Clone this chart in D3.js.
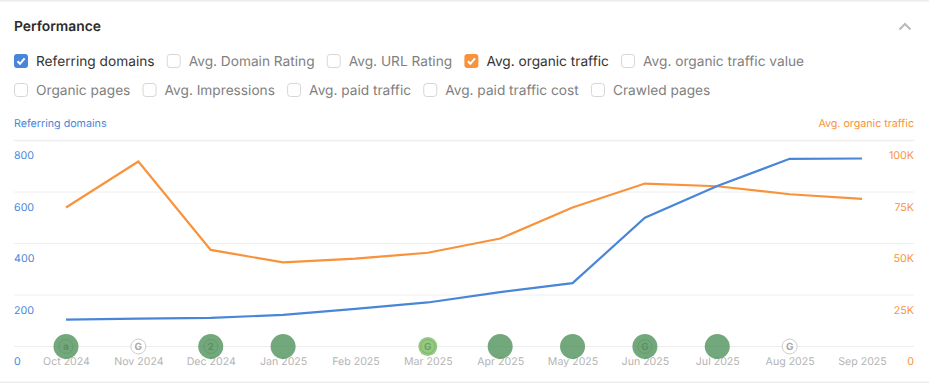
<!DOCTYPE html>
<html>
<head>
<meta charset="utf-8">
<script src="https://cdn.jsdelivr.net/npm/d3@7"></script>
<style>
html, body { margin: 0; padding: 0; background: #fff; }
svg { display: block; font-family: Inter, sans-serif; text-rendering: geometricPrecision; }
</style>
</head>
<body>
<div class="container"></div>
<script>
var width = 929;
var height = 383;

var months = ['Oct 2024','Nov 2024','Dec 2024','Jan 2025','Feb 2025','Mar 2025','Apr 2025','May 2025','Jun 2025','Jul 2025','Aug 2025','Sep 2025'];
var referringDomains = [104,108,111,123,146,171,211,246,500,623,729,730];
var organicTraffic = [67500,89800,46900,40800,42700,45500,52400,67500,79100,77800,73900,71700];

var leftTicks = [0,200,400,600,800];
var rightTicks = [0,25000,50000,75000,100000];

var row1 = ['Referring domains','Avg. Domain Rating','Avg. URL Rating','Avg. organic traffic','Avg. organic traffic value'];
var row2 = ['Organic pages','Avg. Impressions','Avg. paid traffic','Avg. paid traffic cost','Crawled pages'];
var checked = {'Referring domains':'#4a86d8','Avg. organic traffic':'#f8933c'};

var noteMonths = ['Oct 2024','Nov 2024','Dec 2024','Jan 2025','Mar 2025','Apr 2025','May 2025','Jun 2025','Jul 2025','Aug 2025'];
var noteKinds = ['big','small','big','big','mid','big','big','big','big','small'];
var noteGlyphs = ['a','G','2','','G','','','G','','G'];

var blue = '#4a86d8';
var orange = '#f8933c';

var svg = d3.select('.container').append('svg')
	.attr('width',width)
	.attr('height',height);

// frame lines
svg.append('rect').attr('x',0).attr('y',0).attr('width',width).attr('height',1.5).attr('fill','#ececec');
svg.append('rect').attr('x',0).attr('y',381.5).attr('width',width).attr('height',1.5).attr('fill','#ececec');

svg.append('text')
	.attr('x',14).attr('y',31)
	.attr('font-size',13.85).attr('font-weight',600).attr('fill','#2b2b2b')
	.text('Performance');

svg.append('path')
	.attr('d','M899.5 29.5L905 24L910.5 29.5')
	.attr('fill','none').attr('stroke','#b9b9b9').attr('stroke-width',2);

var drawRow = function(items, y) {
	var x = 14;
	items.forEach(function(label) {
		var color = checked[label];
		var g = svg.append('g').attr('transform','translate(' + x + ',' + y + ')');
		g.append('rect')
			.attr('x',color ? 0 : 0.5).attr('y',color ? -7 : -6.5)
			.attr('width',color ? 14 : 13).attr('height',color ? 14 : 13)
			.attr('rx',3)
			.attr('fill',color || '#fff')
			.attr('stroke',color ? 'none' : '#d6d6d6');
		if (color) {
			g.append('path')
				.attr('d','M3.5 0.2L6 2.8L10.6 -2.6')
				.attr('fill','none').attr('stroke','#fff').attr('stroke-width',2);
		}
		var t = g.append('text')
			.attr('x',22).attr('y',5)
			.attr('font-size',13.7)
			.attr('fill',color ? '#333333' : '#808080')
			.text(label);
		x += 22 + t.node().getComputedTextLength() + 12.2;
	});
}
drawRow(row1,61);
drawRow(row2,90);

svg.append('text').attr('x',14).attr('y',127)
	.attr('font-size',10.7).attr('fill',blue).text('Referring domains');
svg.append('text').attr('x',914).attr('y',127).attr('text-anchor','end')
	.attr('font-size',10.7).attr('fill',orange).text('Avg. organic traffic');

var XScale = d3.scalePoint().domain(months).range([66,862]);
var YLeft = d3.scaleLinear().domain([0,800]).range([346.5,140.5]);
var YRight = d3.scaleLinear().domain([0,100000]).range([346.5,140.5]);

// gridlines
var grid = svg.append('g').selectAll('line').data(leftTicks).enter().append('line')
	.attr('x1',14).attr('x2',914)
	.attr('y1',function(d){return YLeft(d);})
	.attr('y2',function(d){return YLeft(d);})
	.attr('stroke','#eeeeee')
	.attr('stroke-width',function(d){return d==800 ? 1.5 : 1;});

var styleAxis = function(g, color, dx) {
	g.select('.domain').remove();
	g.selectAll('.tick line').remove();
	g.selectAll('.tick text')
		.attr('x',dx).attr('y',15).attr('dy','0.32em')
		.attr('fill',color).attr('font-size',10.7).attr('font-family','Inter, sans-serif');
}

svg.append('g')
	.attr('transform','translate(14,0)')
	.call(d3.axisRight(YLeft).tickValues(leftTicks).tickSize(0))
	.call(styleAxis,blue,0);

svg.append('g')
	.attr('transform','translate(914,0)')
	.call(d3.axisLeft(YRight).tickValues(rightTicks).tickSize(0).tickFormat(function(d){return d==0 ? '0' : d/1000 + 'K';}))
	.call(styleAxis,orange,0);

var xAxis = svg.append('g')
	.attr('transform','translate(0,346)')
	.call(d3.axisBottom(XScale).tickSize(0));
xAxis.select('.domain').remove();
xAxis.selectAll('.tick text')
	.attr('y',16).attr('dy','0.32em')
	.attr('fill','#b4b4b4').attr('font-size',10.6).attr('font-family','Inter, sans-serif');

var line = function(scale) {
	return d3.line()
		.x(function(d,i){return XScale(months[i]);})
		.y(function(d){return scale(d);});
}

svg.append('path').datum(organicTraffic)
	.attr('d',line(YRight))
	.attr('fill','none').attr('stroke',orange).attr('stroke-width',2.2);

svg.append('path').datum(referringDomains)
	.attr('d',line(YLeft))
	.attr('fill','none').attr('stroke',blue).attr('stroke-width',2.2);

// event markers on the baseline
var notes = svg.append('g').selectAll('g').data(noteMonths).enter().append('g')
	.attr('transform',function(d){return 'translate(' + XScale(d) + ',346.5)';});

var noteR = {big:12.5, mid:9.5, small:7.5};
var noteFill = {big:'rgba(74,143,86,0.78)', mid:'rgba(122,186,98,0.8)', small:'#ffffff'};
var noteInk = {big:'rgba(50,110,62,0.4)', mid:'rgba(80,140,70,0.6)', small:'#a8a8a8'};

notes.append('circle')
	.attr('r',function(d,i){return noteR[noteKinds[i]];})
	.attr('fill',function(d,i){return noteFill[noteKinds[i]];})
	.attr('stroke',function(d,i){return noteKinds[i]=='small' ? '#cccccc' : 'none';});

notes.filter(function(d,i){return noteGlyphs[i] && noteKinds[i]!='small';})
	.append('circle')
	.attr('r',7).attr('fill','none')
	.attr('stroke',function(d){return noteInk[noteKinds[noteMonths.indexOf(d)]];})
	.attr('stroke-opacity',0.5);

notes.append('text')
	.attr('text-anchor','middle').attr('y',3.5)
	.attr('font-size',10).attr('font-weight',700)
	.attr('fill',function(d,i){return noteInk[noteKinds[i]];})
	.text(function(d,i){return noteGlyphs[i];});
</script>
</body>
</html>
